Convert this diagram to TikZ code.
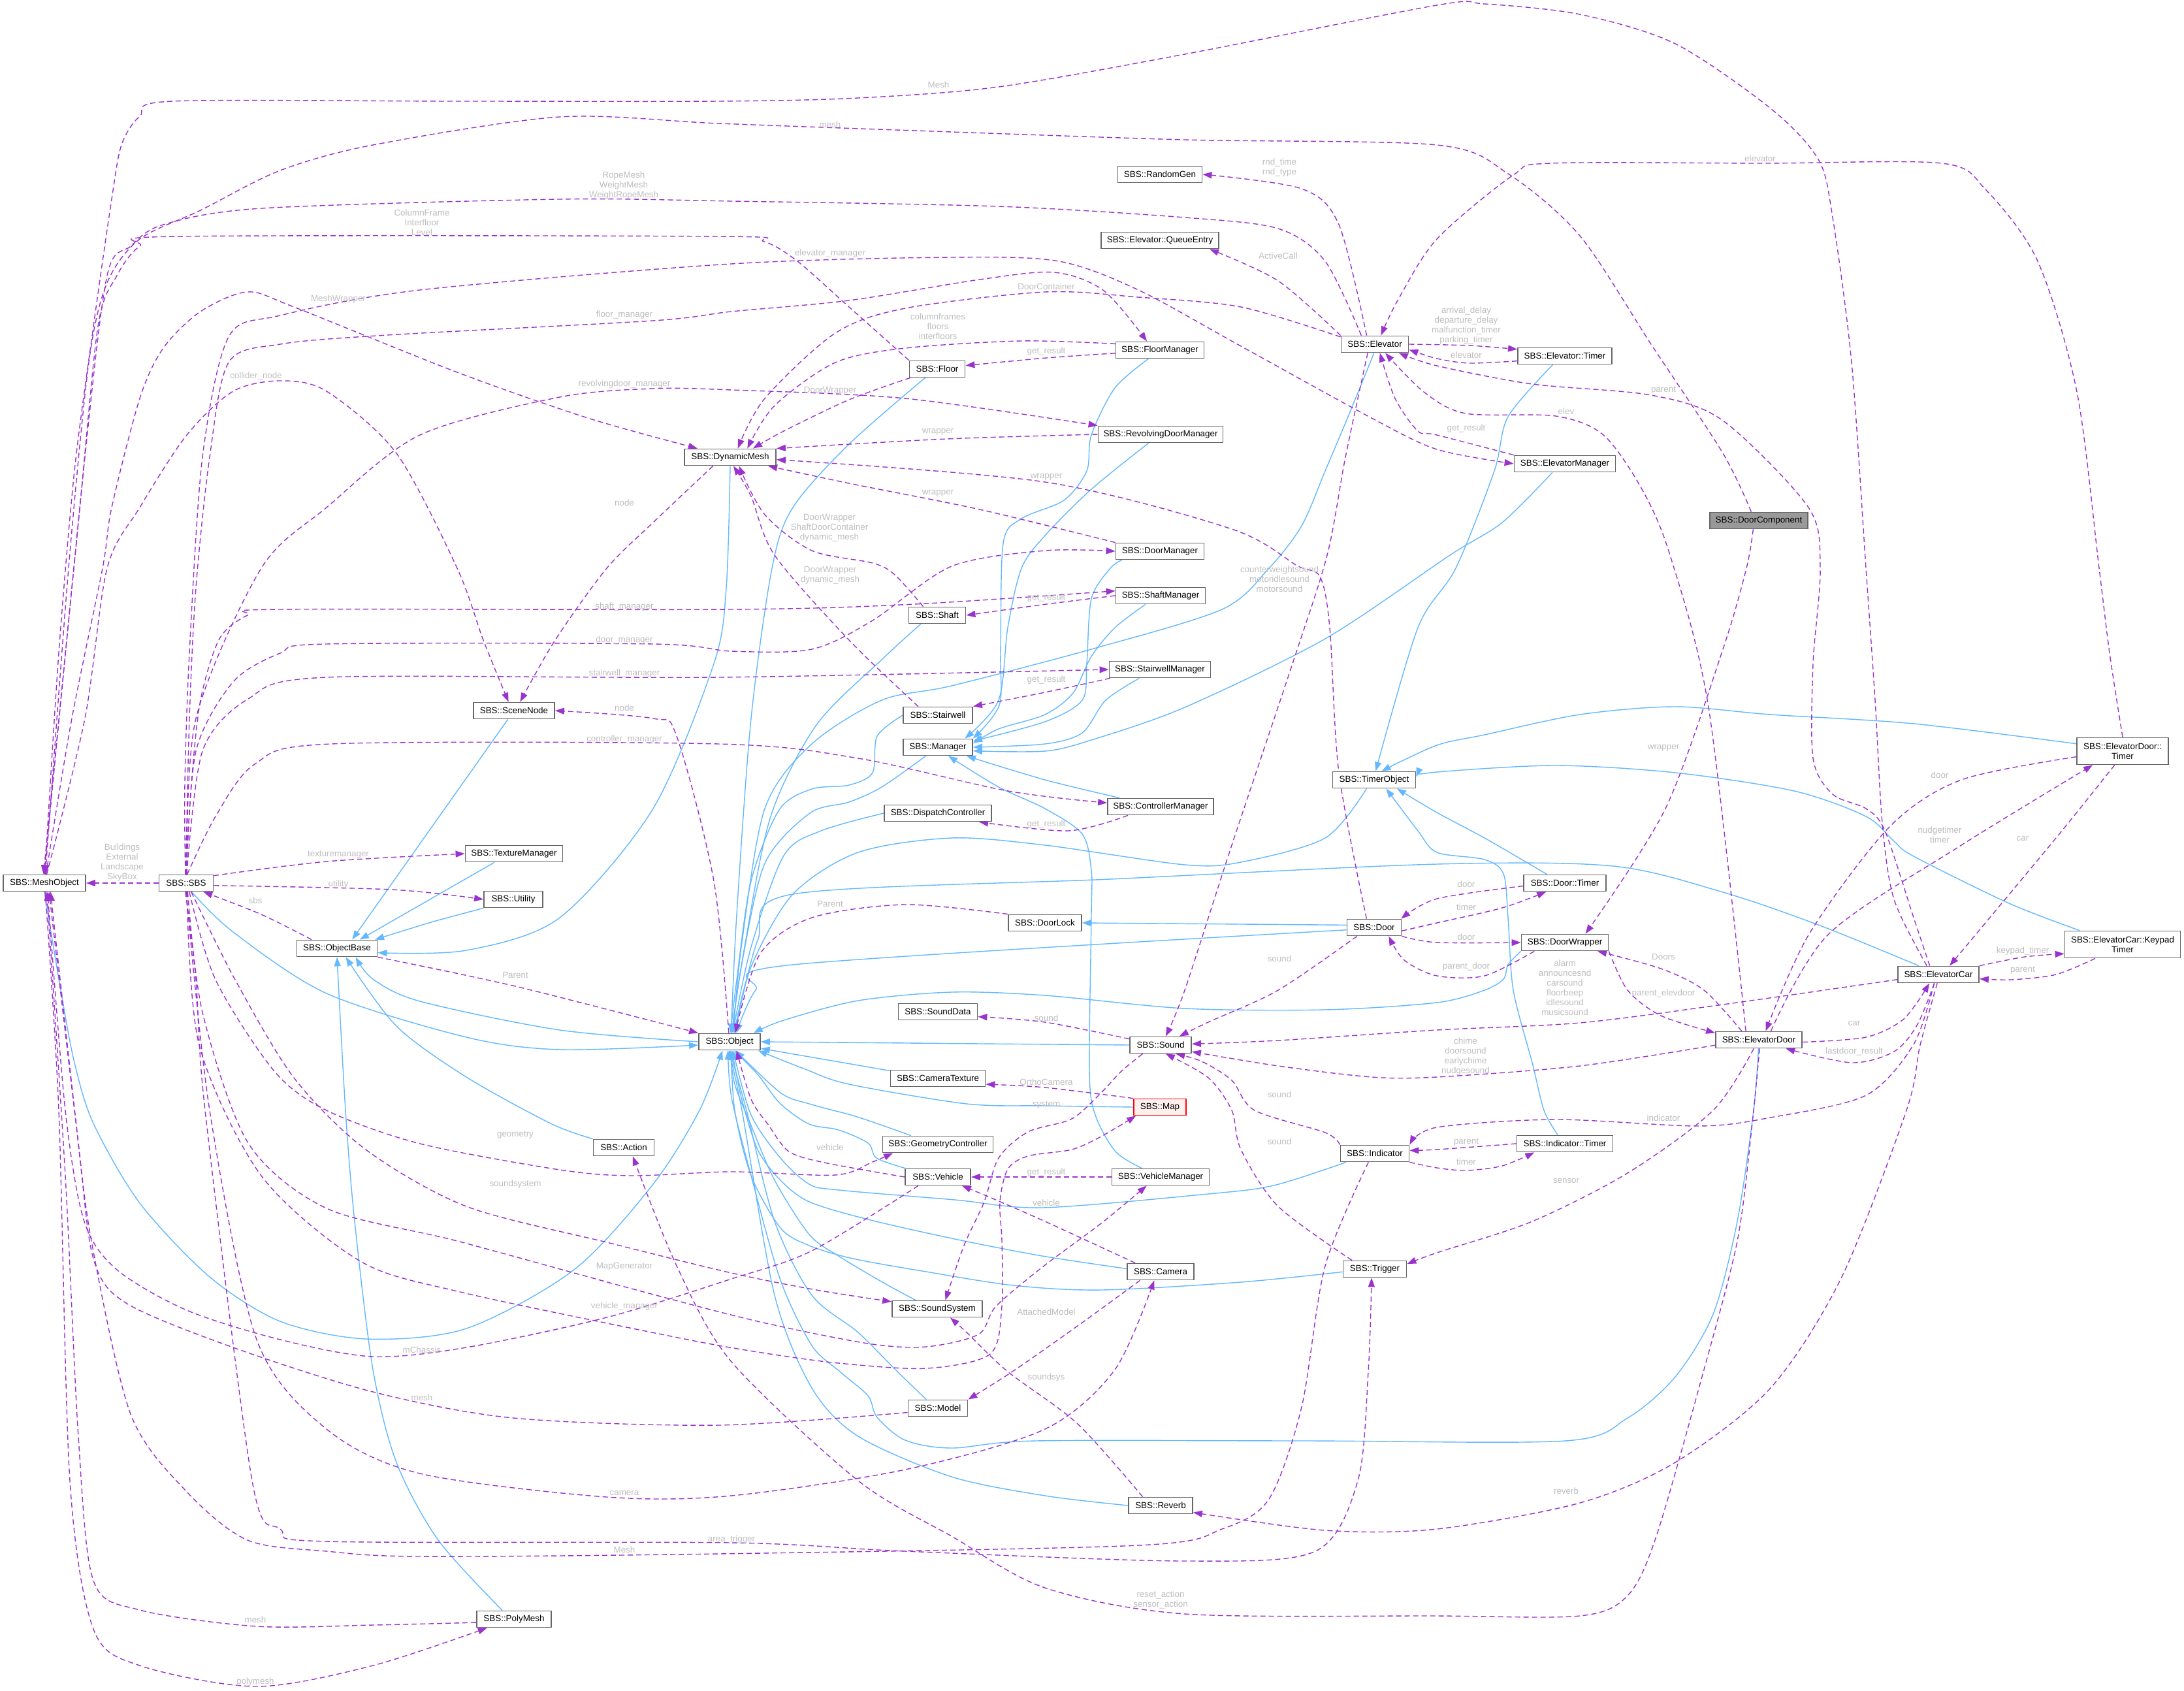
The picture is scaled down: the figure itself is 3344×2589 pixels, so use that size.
\documentclass[tikz,border=0pt]{standalone}
\usepackage{fontspec}
\setmainfont{Liberation Sans}
\usetikzlibrary{arrows.meta}
\definecolor{inhC}{HTML}{63B8FF}
\definecolor{depC}{HTML}{9A32CD}
\definecolor{lblC}{HTML}{BEBEBE}
\definecolor{bdrC}{HTML}{666666}
\pgfdeclarelayer{bg}
\pgfdeclarelayer{edges}
\pgfsetlayers{bg,edges,main}
\tikzset{
 cls/.style={draw=bdrC, fill=white, line width=0.9pt, font=\fontsize{6.7}{7.5}\selectfont, inner xsep=2pt, inner ysep=1pt, minimum height=12.5pt, text=black, align=center},
 mw/.style={minimum width=#1pt},
 inh/.style={draw=inhC, line width=0.7pt, -{Triangle[length=7pt,width=5pt]}},
 dep/.style={draw=depC, line width=0.7pt, dash pattern=on 4pt off 2.5pt, -{Triangle[length=7pt,width=5pt]}},
 lbl/.style={font=\fontsize{6.7}{7.5}\selectfont, text=lblC, align=center, inner sep=0pt},
}
\begin{document}
\begin{tikzpicture}[x=0.5pt,y=-0.5pt]
\begin{pgfonlayer}{bg}
\fill[white] (0,0) rectangle (3344,2589);
\end{pgfonlayer}
\useasboundingbox (0,0) rectangle (3344,2589);
% ---------- nodes ----------
\node[cls,mw=63] (MeshObject) at (68,1352) {SBS::MeshObject};
\node[cls,mw=41.5] (SBS) at (285,1352) {SBS::SBS};
\node[cls,mw=61.5] (ObjectBase) at (516,1452) {SBS::ObjectBase};
\node[cls,mw=62] (SceneNode) at (787,1088) {SBS::SceneNode};
\node[cls,mw=74.5] (TextureManager) at (787,1307) {SBS::TextureManager};
\node[cls,mw=45] (Utility) at (786,1377) {SBS::Utility};
\node[cls,mw=46.5] (Action) at (955,1757) {SBS::Action};
\node[cls,mw=57] (PolyMesh) at (787,2479) {SBS::PolyMesh};
\node[cls,mw=70] (DynamicMesh) at (1118,700) {SBS::DynamicMesh};
\node[cls,mw=47] (Object) at (1117,1595) {SBS::Object};
\node[cls,mw=42.5] (Floor) at (1435,565) {SBS::Floor};
\node[cls,mw=43.5] (Shaft) at (1435,942) {SBS::Shaft};
\node[cls,mw=53] (Stairwell) at (1436,1095) {SBS::Stairwell};
\node[cls,mw=53] (Manager) at (1436,1144) {SBS::Manager};
\node[cls,mw=82] (DispatchController) at (1436,1245) {SBS::DispatchController};
\node[cls,mw=60.5] (SoundData) at (1436,1549) {SBS::SoundData};
\node[cls,mw=72.5] (CameraTexture) at (1436,1651) {SBS::CameraTexture};
\node[cls,mw=84.5] (GeometryController) at (1436,1752) {SBS::GeometryController};
\node[cls,mw=50] (Vehicle) at (1436,1802) {SBS::Vehicle};
\node[cls,mw=69] (SoundSystem) at (1435,2004) {SBS::SoundSystem};
\node[cls,mw=45.5] (Model) at (1436,2156) {SBS::Model};
\node[cls,mw=56] (DoorLock) at (1600,1413) {SBS::DoorLock};
\node[cls,mw=64.5] (RandomGen) at (1776,267) {SBS::RandomGen};
\node[cls,mw=90] (QueueEntry) at (1776,368) {SBS::Elevator::QueueEntry};
\node[cls,mw=67.5] (FloorManager) at (1776,536) {SBS::FloorManager};
\node[cls,mw=95.5] (RevolvingDoorManager) at (1777,665) {SBS::RevolvingDoorManager};
\node[cls,mw=67.5] (DoorManager) at (1776,844) {SBS::DoorManager};
\node[cls,mw=68.5] (ShaftManager) at (1777,912) {SBS::ShaftManager};
\node[cls,mw=77.5] (StairwellManager) at (1776,1025) {SBS::StairwellManager};
\node[cls,mw=81] (ControllerManager) at (1777,1235) {SBS::ControllerManager};
\node[cls,mw=47] (Sound) at (1777,1600) {SBS::Sound};
\node[cls,mw=40,draw=red,fill={rgb,255:red,255;green,240;blue,240}] (Map) at (1776,1695) {SBS::Map};
\node[cls,mw=74.5] (VehicleManager) at (1777,1802) {SBS::VehicleManager};
\node[cls,mw=51] (Camera) at (1777,1947) {SBS::Camera};
\node[cls,mw=49] (Reverb) at (1777,2305) {SBS::Reverb};
\node[cls,mw=51.5] (Elevator) at (2105,527) {SBS::Elevator};
\node[cls,mw=63.5] (TimerObject) at (2104,1194) {SBS::TimerObject};
\node[cls,mw=41.5] (Door) at (2104,1420) {SBS::Door};
\node[cls,mw=52.5] (Indicator) at (2105,1766) {SBS::Indicator};
\node[cls,mw=48.5] (Trigger) at (2105,1943) {SBS::Trigger};
\node[cls,mw=72] (ElevatorTimer) at (2396,545) {SBS::Elevator::Timer};
\node[cls,mw=77.5] (ElevatorManager) at (2396,710) {SBS::ElevatorManager};
\node[cls,mw=63] (DoorTimer) at (2396,1352) {SBS::Door::Timer};
\node[cls,mw=66.5] (DoorWrapper) at (2396,1443) {SBS::DoorWrapper};
\node[cls,mw=73.5] (IndicatorTimer) at (2396,1751) {SBS::Indicator::Timer};
\node[cls,mw=75,fill={rgb,255:red,153;green,153;blue,153}] (DoorComponent) at (2693,797) {SBS::DoorComponent};
\node[cls,mw=66] (ElevatorDoor) at (2693,1592) {SBS::ElevatorDoor};
\node[cls,mw=62] (ElevatorCar) at (2968,1492) {SBS::ElevatorCar};
\node[cls,mw=70,minimum height=20.5pt] (EDTimer) at (3250,1150) {SBS::ElevatorDoor::\\Timer};
\node[cls,mw=88.5,minimum height=20.5pt] (KeypadTimer) at (3250,1446) {SBS::ElevatorCar::Keypad\\Timer};
% ---------- labels ----------
\node[lbl] (l1) at (1437,130) {Mesh};
\node[lbl] (l2) at (1271,191) {mesh};
\node[lbl] (l3) at (955,284) {RopeMesh\\WeightMesh\\WeightRopeMesh};
\node[lbl] (l4) at (646,341) {ColumnFrame\\Interfloor\\Level};
\node[lbl] (l5) at (1959,257) {rnd\_time\\rnd\_type};
\node[lbl] (l6) at (1957,392) {ActiveCall};
\node[lbl] (l7) at (1271,388) {elevator\_manager};
\node[lbl] (l8) at (1602,439) {DoorContainer};
\node[lbl] (l9) at (518,458) {MeshWrapper};
\node[lbl] (l10) at (956,482) {floor\_manager};
\node[lbl] (l11) at (1436,500) {columnframes\\floors\\interfloors};
\node[lbl] (l12) at (1602,538) {get\_result};
\node[lbl] (l13) at (392,576) {collider\_node};
\node[lbl] (l14) at (956,588) {revolvingdoor\_manager};
\node[lbl] (l15) at (1271,598) {DoorWrapper};
\node[lbl] (l16) at (1436,661) {wrapper};
\node[lbl] (l17) at (1602,730) {wrapper};
\node[lbl] (l18) at (1436,755) {wrapper};
\node[lbl] (l19) at (956,770) {node};
\node[lbl] (l20) at (1270,808) {DoorWrapper\\ShaftDoorContainer\\dynamic\_mesh};
\node[lbl] (l21) at (1271,881) {DoorWrapper\\dynamic\_mesh};
\node[lbl] (l22) at (1959,887) {counterweightsound\\motoridlesound\\motorsound};
\node[lbl] (l23) at (956,929) {shaft\_manager};
\node[lbl] (l24) at (1602,915) {get\_result};
\node[lbl] (l25) at (956,980) {door\_manager};
\node[lbl] (l26) at (956,1031) {stairwell\_manager};
\node[lbl] (l27) at (1602,1041) {get\_result};
\node[lbl] (l28) at (956,1084) {node};
\node[lbl] (l29) at (956,1132) {controller\_manager};
\node[lbl] (l30) at (1602,1262) {get\_result};
\node[lbl] (l31) at (187,1321) {Buildings\\External\\Landscape\\SkyBox};
\node[lbl] (l32) at (518,1309) {texturemanager};
\node[lbl] (l33) at (518,1354) {utility};
\node[lbl] (l34) at (391,1379) {sbs};
\node[lbl] (l35) at (789,1493) {Parent};
\node[lbl] (l36) at (1271,1384) {Parent};
\node[lbl] (l37) at (1959,1468) {sound};
\node[lbl] (l38) at (1602,1559) {sound};
\node[lbl] (l39) at (1602,1657) {OrthoCamera};
\node[lbl] (l40) at (1602,1692) {system};
\node[lbl] (l41) at (1959,1676) {sound};
\node[lbl] (l42) at (2695,243) {elevator};
\node[lbl] (l43) at (2245,499) {arrival\_delay\\departure\_delay\\malfunction\_timer\\parking\_timer};
\node[lbl] (l44) at (2245,544) {elevator};
\node[lbl] (l45) at (2547,598) {parent};
\node[lbl] (l46) at (2398,630) {elev};
\node[lbl] (l47) at (2245,656) {get\_result};
\node[lbl] (l48) at (2547,1145) {wrapper};
\node[lbl] (l49) at (2970,1187) {door};
\node[lbl] (l50) at (2970,1278) {nudgetimer\\timer};
\node[lbl] (l51) at (3097,1284) {car};
\node[lbl] (l52) at (2245,1354) {door};
\node[lbl] (l53) at (2245,1389) {timer};
\node[lbl] (l54) at (2245,1435) {door};
\node[lbl] (l55) at (2245,1480) {parent\_door};
\node[lbl] (l56) at (2547,1465) {Doors};
\node[lbl] (l57) at (2396,1512) {alarm\\announcesnd\\carsound\\floorbeep\\idlesound\\musicsound};
\node[lbl] (l58) at (3097,1456) {keypad\_timer};
\node[lbl] (l59) at (3097,1486) {parent};
\node[lbl] (l60) at (2547,1521) {parent\_elevdoor};
\node[lbl] (l61) at (2839,1567) {car};
\node[lbl] (l62) at (2244,1618) {chime\\doorsound\\earlychime\\nudgesound};
\node[lbl] (l63) at (2839,1610) {lastdoor\_result};
\node[lbl] (l64) at (2547,1712) {indicator};
\node[lbl] (l65) at (789,1738) {geometry};
\node[lbl] (l66) at (789,1813) {soundsystem};
\node[lbl] (l67) at (956,1939) {MapGenerator};
\node[lbl] (l68) at (956,2000) {vehicle\_manager};
\node[lbl] (l69) at (646,2067) {mChassis};
\node[lbl] (l70) at (646,2140) {mesh};
\node[lbl] (l71) at (956,2286) {camera};
\node[lbl] (l72) at (1120,2357) {area\_trigger};
\node[lbl] (l73) at (956,2373) {Mesh};
\node[lbl] (l74) at (391,2480) {mesh};
\node[lbl] (l75) at (391,2575) {polymesh};
\node[lbl] (l76) at (1271,1757) {vehicle};
\node[lbl] (l77) at (1602,1795) {get\_result};
\node[lbl] (l78) at (1602,1842) {vehicle};
\node[lbl] (l79) at (1602,2009) {AttachedModel};
\node[lbl] (l80) at (1602,2109) {soundsys};
\node[lbl] (l81) at (1777,2449) {reset\_action\\sensor\_action};
\node[lbl] (l82) at (1959,1748) {sound};
\node[lbl] (l83) at (2245,1749) {parent};
\node[lbl] (l84) at (2245,1779) {timer};
\node[lbl] (l85) at (2398,1808) {sensor};
\node[lbl] (l86) at (2398,2283) {reverb};
\begin{pgfonlayer}{edges}
% ---------- inheritance ----------
\draw[inh] (SceneNode.235) -- (ObjectBase.30);
\draw[inh] (TextureManager.204) -- (ObjectBase.21);
\draw[inh] plot[smooth] coordinates {(Utility.south west) (660,1412) (ObjectBase.13)};
\draw[inh] plot[smooth] coordinates {(DynamicMesh.south) (1112,900) (1093,1016) (1000,1238) (857,1405) (714,1455) (ObjectBase.354)};
\draw[inh] plot[smooth] coordinates {(Object.west) (857,1577) (643,1533) (571,1499) (ObjectBase.335)};
\draw[inh] plot[smooth] coordinates {(SBS.302) (357,1427) (500,1521) (714,1588) (857,1607) (Object.186)};
\draw[inh] plot[smooth] coordinates {(Action.north west) (843,1720) (714,1649) (607,1571) (ObjectBase.315)};
\draw[inh] plot[smooth] coordinates {(PolyMesh.143) (671,2358) (607,2239) (571,2097) (543,1870) (529,1700) (ObjectBase.270)};
\draw[inh] plot[smooth] coordinates {(MeshObject.south) (93,1516) (114,1627) (143,1720) (214,1842) (321,1955) (429,2023) (561,2050) (714,2034) (879,1944) (1000,1813) (1071,1700) (Object.231)};
\draw[inh] plot[smooth] coordinates {(Floor.216) (1300,680) (1214,777) (1182,870) (1150,1100) (1128,1400) (Object.80)};
\draw[inh] plot[smooth] coordinates {(Shaft.208) (1350,1010) (1250,1110) (1180,1250) (1140,1450) (Object.77)};
\draw[inh] plot[smooth] coordinates {(Stairwell.west) (1343,1127) (1336,1183) (1300,1202) (1243,1208) (1193,1240) (1150,1349) (1128,1500) (Object.83)};
\draw[inh] plot[smooth] coordinates {(Manager.216) (1350,1205) (1300,1228) (1240,1245) (1171,1322) (1135,1480) (Object.74)};
\draw[inh] plot[smooth] coordinates {(DispatchController.west) (1257,1272) (1200,1310) (1150,1450) (Object.70)};
\draw[inh] plot[smooth] coordinates {(Elevator.265) (2064,638) (2029,721) (1993,805) (1943,870) (1871,933) (1671,994) (1457,1050) (1350,1072) (1243,1139) (1171,1238) (1135,1450) (Object.66)};
\draw[inh] plot[smooth] coordinates {(TimerObject.229) (2029,1283) (1900,1320) (1814,1324) (1600,1294) (1457,1283) (1314,1305) (1214,1369) (1150,1480) (Object.62)};
\draw[inh] plot[smooth] coordinates {(ElevatorCar.156) (2784,1416) (2638,1366) (2470,1326) (2200,1323) (1700,1346) (1214,1369) (1160,1440) (Object.58)};
\draw[inh] plot[smooth] coordinates {(Door.185) (1214,1477) (1157,1516) (Object.52)};
\draw[inh] plot[smooth] coordinates {(DoorWrapper.south west) (2309,1477) (2302,1499) (2273,1516) (2200,1535) (2029,1546) (1814,1544) (1600,1524) (1457,1519) (1314,1532) (1200,1562) (Object.20)};
\draw[inh] (Sound.west) -- (Object.east);
\draw[inh] (CameraTexture.171) -- (Object.348);
\draw[inh] plot[smooth] coordinates {(Map.west) (1600,1693) (1480,1690) (1300,1660) (1233,1637) (Object.343)};
\draw[inh] plot[smooth] coordinates {(GeometryController.162) (1351,1723) (1306,1708) (1239,1690) (1195,1673) (Object.305)};
\draw[inh] plot[smooth] coordinates {(Vehicle.165) (1342,1773) (1329,1750) (1284,1730) (1239,1721) (1195,1690) (1160,1645) (Object.298)};
\draw[inh] plot[smooth] coordinates {(Indicator.197) (1950,1815) (1850,1828) (1596,1849) (1462,1837) (1284,1822) (1239,1813) (1195,1773) (1150,1707) (Object.292)};
\draw[inh] plot[smooth] coordinates {(Camera.175) (1596,1923) (1462,1897) (1329,1867) (1239,1840) (1195,1807) (1160,1760) (1135,1680) (Object.286)};
\draw[inh] plot[smooth] coordinates {(Trigger.185) (1900,1963) (1686,1975) (1552,1968) (1418,1947) (1306,1927) (1239,1907) (1195,1880) (1150,1800) (1125,1700) (Object.280)};
\draw[inh] plot[smooth] coordinates {(SoundSystem.158) (1351,1963) (1284,1923) (1239,1890) (1186,1807) (1150,1723) (1125,1660) (Object.275)};
\draw[inh] plot[smooth] coordinates {(Model.143) (1371,2097) (1314,2040) (1243,1983) (1186,1870) (1143,1700) (Object.270)};
\draw[inh] plot[smooth] coordinates {(Reverb.west) (1600,2290) (1457,2261) (1314,2199) (1243,2125) (1186,1983) (1136,1700) (Object.265)};
\draw[inh] plot[smooth] coordinates {(ElevatorDoor.268) (2685,1700) (2660,1870) (2623,2012) (2565,2108) (2492,2171) (2397,2206) (2000,2206) (1586,2206) (1457,2217) (1386,2205) (1343,2170) (1329,2137) (1286,2100) (1243,2060) (1195,1960) (1150,1800) (1120,1680) (Object.260)};
\draw[inh] plot[smooth] coordinates {(FloorManager.217) (1707,594) (1671,666) (1664,721) (1629,766) (1564,794) (1536,832) (1532,1000) (1530,1080) (Manager.north east)};
\draw[inh] plot[smooth] coordinates {(RevolvingDoorManager.216) (1671,749) (1600,820) (1564,870) (1543,961) (1529,1072) (Manager.18)};
\draw[inh] plot[smooth] coordinates {(DoorManager.193) (1700,870) (1671,917) (1664,1016) (1657,1072) (1600,1105) (Manager.10)};
\draw[inh] plot[smooth] coordinates {(ShaftManager.210) (1707,961) (1671,1005) (1643,1061) (1600,1094) (1529,1116) (Manager.6)};
\draw[inh] plot[smooth] coordinates {(StairwellManager.203) (1693,1072) (1657,1122) (1600,1139) (Manager.0)};
\draw[inh] plot[smooth] coordinates {(ElevatorManager.215) (2300,800) (2220,850) (2029,978) (1814,1083) (1671,1133) (1600,1150) (Manager.354)};
\draw[inh] plot[smooth] coordinates {(ControllerManager.168) (1600,1194) (Manager.343)};
\draw[inh] plot[smooth] coordinates {(VehicleManager.155) (1708,1763) (1677,1707) (1668,1640) (1671,1400) (1671,1333) (1657,1277) (1600,1238) (1529,1205) (Manager.320)};
\draw[inh] plot[smooth] coordinates {(ElevatorTimer.216) (2309,638) (2288,721) (2229,870) (2171,961) (TimerObject.80)};
\draw[inh] plot[smooth] coordinates {(EDTimer.171) (2930,1108) (2711,1094) (2565,1082) (2419,1094) (2273,1125) (2200,1141) (TimerObject.50)};
\draw[inh] plot[smooth] coordinates {(KeypadTimer.162) (3076,1383) (2930,1311) (2900,1288) (2857,1250) (2747,1211) (2565,1183) (2382,1172) (2200,1182) (TimerObject.4)};
\draw[inh] plot[smooth] coordinates {(DoorTimer.154) (2273,1283) (2200,1244) (TimerObject.339)};
\draw[inh] plot[smooth] coordinates {(IndicatorTimer.129) (2364,1700) (2346,1627) (2317,1516) (2309,1405) (2302,1338) (2273,1316) (2200,1305) (2171,1272) (TimerObject.324)};
\draw[inh] (Door.175) -- (DoorLock.east);
% ---------- usage ----------
\draw[dep] plot[smooth] coordinates {(ElevatorCar.143) (2900,1377) (2882,1260) (2871,1072) (2857,870) (2835,555) (2806,333) (2784,244) (2711,166) (2565,67) (2419,22) (2273,6) (2200,8) (1814,83) (1529,133) (1314,150) (1100,155) (700,155) (264,155) (214,178) (186,222) (171,305) (143,500) (114,721) (90,1000) (MeshObject.88)};
\draw[dep] plot[smooth] coordinates {(DoorComponent.131) (2638,694) (2528,527) (2419,361) (2309,266) (2200,222) (1814,214) (1400,200) (1100,189) (857,179) (571,222) (429,261) (307,322) (214,366) (164,433) (136,555) (105,870) (MeshObject.84)};
\draw[dep] plot[smooth] coordinates {(Elevator.147) (2029,400) (1957,350) (1814,333) (1529,316) (1120,308) (857,305) (400,319) (250,344) (200,377) (164,422) (130,700) (MeshObject.92)};
\draw[dep] plot[smooth] coordinates {(Floor.north west) (1300,470) (1221,400) (1170,370) (1100,362) (271,362) (214,377) (179,422) (150,500) (120,800) (MeshObject.96)};
\draw[dep] plot[smooth] coordinates {(SBS.95) (283,1200) (290,1000) (310,700) (350,516) (429,483) (643,444) (1120,404) (1457,394) (1621,400) (1743,444) (1900,530) (2100,640) (2200,688) (ElevatorManager.west)};
\draw[dep] plot[smooth] coordinates {(MeshObject.80) (110,1100) (157,870) (171,777) (214,610) (250,533) (307,477) (379,447) (450,470) (700,570) (900,640) (DynamicMesh.165)};
\draw[dep] plot[smooth] coordinates {(SBS.93) (290,1100) (300,900) (321,700) (350,555) (429,527) (593,513) (1000,491) (1120,477) (1300,460) (1500,428) (1614,417) (1690,445) (FloorManager.146)};
\draw[dep] plot[smooth] coordinates {(Elevator.168) (1900,470) (1743,455) (1600,447) (1386,472) (1279,510) (1171,610) (DynamicMesh.49)};
\draw[dep] plot[smooth] coordinates {(FloorManager.172) (1564,522) (1386,533) (1279,555) (1186,621) (DynamicMesh.27)};
\draw[dep] plot[smooth] coordinates {(FloorManager.184) (1602,548) (Floor.7)};
\draw[dep] plot[smooth] coordinates {(Floor.198) (1300,612) (1200,660) (DynamicMesh.21)};
\draw[dep] plot[smooth] coordinates {(MeshObject.75) (130,1100) (164,870) (214,777) (286,666) (357,599) (429,583) (500,599) (607,694) (700,870) (740,980) (SceneNode.122)};
\draw[dep] plot[smooth] coordinates {(SBS.85) (300,1100) (400,870) (500,777) (643,666) (857,608) (1000,595) (1120,597) (1386,610) (RevolvingDoorManager.north west)};
\draw[dep] plot[smooth] coordinates {(RevolvingDoorManager.west) (1450,672) (DynamicMesh.north east)};
\draw[dep] plot[smooth] coordinates {(DoorManager.north west) (1500,780) (1300,740) (DynamicMesh.347)};
\draw[dep] plot[smooth] coordinates {(Door.131) (2050,1183) (2036,961) (2021,883) (1986,866) (1886,810) (1600,738) (DynamicMesh.357)};
\draw[dep] plot[smooth] coordinates {(Shaft.148) (1370,880) (1336,862) (1243,843) (1171,788) (DynamicMesh.315)};
\draw[dep] plot[smooth] coordinates {(Stairwell.156) (1300,980) (1186,850) (1150,760) (DynamicMesh.290)};
\draw[dep] plot[smooth] coordinates {(DynamicMesh.207) (1000,800) (929,870) (850,980) (SceneNode.55)};
\draw[dep] plot[smooth] coordinates {(SBS.90) (293,1200) (307,1072) (336,978) (379,942) (429,933) (1120,933) (1400,925) (ShaftManager.174)};
\draw[dep] plot[smooth] coordinates {(SBS.88) (300,1150) (357,1044) (429,1000) (500,986) (1000,986) (1120,997) (1243,994) (1336,950) (1457,867) (1600,843) (DoorManager.west)};
\draw[dep] plot[smooth] coordinates {(SBS.86) (310,1150) (380,1070) (500,1037) (1100,1037) (StairwellManager.west)};
\draw[dep] plot[smooth] coordinates {(SBS.83) (330,1250) (390,1170) (507,1139) (1100,1139) (1314,1161) (1543,1211) (ControllerManager.176)};
\draw[dep] plot[smooth] coordinates {(Object.95) (1093,1349) (1036,1127) (1000,1100) (SceneNode.east)};
\draw[dep] (SBS.west) -- (MeshObject.east);
\draw[dep] plot[smooth] coordinates {(SBS.15) (500,1319) (TextureManager.west)};
\draw[dep] plot[smooth] coordinates {(SBS.355) (600,1362) (Utility.west)};
\draw[dep] plot[smooth] coordinates {(ObjectBase.161) (400,1400) (SBS.333)};
\draw[dep] plot[smooth] coordinates {(ObjectBase.south east) (789,1510) (Object.north west)};
\draw[dep] plot[smooth] coordinates {(DoorLock.north west) (1386,1385) (1243,1405) (1164,1460) (Object.57)};
\draw[dep] plot[smooth] coordinates {(ShaftManager.west) (1602,925) (Shaft.east)};
\draw[dep] plot[smooth] coordinates {(StairwellManager.190) (1600,1060) (Stairwell.north east)};
\draw[dep] plot[smooth] coordinates {(ControllerManager.195) (1636,1272) (DispatchController.348)};
\draw[dep] plot[smooth] coordinates {(Elevator.133) (2050,344) (1993,289) (RandomGen.east)};
\draw[dep] plot[smooth] coordinates {(Elevator.north west) (1957,430) (QueueEntry.350)};
\draw[dep] plot[smooth] coordinates {(Elevator.east) (2250,529) (ElevatorTimer.172)};
\draw[dep] plot[smooth] coordinates {(ElevatorTimer.186) (2250,556) (2200,549) (Elevator.351)};
\draw[dep] plot[smooth] coordinates {(EDTimer.north) (3230,1000) (3214,870) (3180,600) (3120,400) (3040,290) (2973,250) (2700,250) (2375,250) (2317,268) (2200,366) (2140,460) (Elevator.55)};
\draw[dep] plot[smooth] coordinates {(ElevatorCar.135) (2930,1405) (2886,1272) (2857,1238) (2806,1216) (2776,1161) (2776,1016) (2787,870) (2769,777) (2638,644) (2528,605) (2346,588) (2200,560) (Elevator.340)};
\draw[dep] plot[smooth] coordinates {(ElevatorDoor.146) (2616,1083) (2557,850) (2514,749) (2455,666) (2382,637) (2244,633) (2180,600) (Elevator.320)};
\draw[dep] plot[smooth] coordinates {(ElevatorManager.north west) (2200,666) (2171,660) (2136,610) (Elevator.300)};
\draw[dep] plot[smooth] coordinates {(Elevator.231) (2060,700) (2032,850) (1979,1016) (1886,1294) (1814,1516) (Sound.60)};
\draw[dep] plot[smooth] coordinates {(Door.207) (1957,1516) (1850,1565) (Sound.25)};
\draw[dep] plot[smooth] coordinates {(Sound.169) (1600,1565) (SoundData.353)};
\draw[dep] plot[smooth] coordinates {(ElevatorCar.187) (2638,1538) (2419,1566) (2200,1577) (1957,1593) (Sound.2)};
\draw[dep] plot[smooth] coordinates {(ElevatorDoor.187) (2419,1632) (2200,1649) (2100,1649) (1957,1632) (Sound.348)};
\draw[dep] plot[smooth] coordinates {(Map.north west) (1600,1665) (CameraTexture.353)};
\draw[dep] plot[smooth] coordinates {(Sound.206) (1717,1640) (1686,1673) (1641,1713) (1574,1733) (1529,1773) (1507,1840) (1476,1907) (SoundSystem.47)};
\draw[dep] plot[smooth] coordinates {(Indicator.north west) (2029,1734) (1921,1700) (1886,1654) (1840,1625) (Sound.330)};
\draw[dep] plot[smooth] coordinates {(Trigger.159) (1957,1847) (1900,1760) (1886,1700) (1850,1650) (Sound.300)};
\draw[dep] plot[smooth] coordinates {(ElevatorCar.244) (2930,1599) (2857,1677) (2711,1711) (2601,1724) (2382,1714) (2200,1726) (Indicator.north east)};
\draw[dep] plot[smooth] coordinates {(IndicatorTimer.west) (2200,1760) (Indicator.5)};
\draw[dep] plot[smooth] coordinates {(Indicator.south east) (2200,1788) (2245,1792) (2300,1785) (IndicatorTimer.196)};
\draw[dep] plot[smooth] coordinates {(ElevatorDoor.240) (2623,1700) (2492,1796) (2346,1870) (2200,1918) (Trigger.9)};
\draw[dep] plot[smooth] coordinates {(ElevatorCar.262) (2940,1600) (2919,1700) (2820,1955) (2711,2125) (2565,2239) (2419,2301) (2200,2341) (2029,2343) (Reverb.348)};
\draw[dep] plot[smooth] coordinates {(ElevatorDoor.275) (2682,1728) (2660,1900) (2609,2097) (2536,2352) (2492,2443) (2419,2474) (2200,2474) (1814,2471) (1600,2431) (1457,2352) (1314,2267) (1120,2085) (1036,1938) (Action.316)};
\draw[dep] plot[smooth] coordinates {(Indicator.234) (2029,1938) (1993,2154) (1943,2295) (1871,2341) (1743,2366) (1100,2379) (643,2383) (500,2375) (379,2358) (286,2284) (200,2165) (140,1900) (114,1700) (MeshObject.298)};
\draw[dep] plot[smooth] coordinates {(SBS.265) (300,1500) (314,1700) (386,2267) (429,2341) (500,2360) (1120,2362) (1386,2375) (1814,2390) (2014,2375) (2079,2267) (2095,2100) (Trigger.250)};
\draw[dep] plot[smooth] coordinates {(SBS.270) (321,1700) (393,2051) (500,2188) (643,2256) (929,2292) (1120,2290) (1386,2250) (1600,2188) (1707,2097) (Camera.234)};
\draw[dep] plot[smooth] coordinates {(Model.188) (1100,2182) (786,2171) (571,2131) (357,2063) (193,1995) (143,1927) (120,1750) (MeshObject.305)};
\draw[dep] plot[smooth] coordinates {(Vehicle.204) (1243,1915) (1120,1958) (929,2017) (714,2063) (571,2077) (429,2051) (286,2006) (179,1944) (129,1870) (100,1700) (MeshObject.290)};
\draw[dep] plot[smooth] coordinates {(SBS.280) (310,1550) (380,1750) (500,1850) (700,1900) (967,1973) (1160,2023) (1329,2057) (1418,2062) (1498,2043) (1525,2000) (1596,1940) (1686,1873) (VehicleManager.212)};
\draw[dep] plot[smooth] coordinates {(SBS.275) (305,1600) (400,1800) (550,1930) (700,1977) (1033,2047) (1160,2070) (1284,2087) (1418,2095) (1516,2073) (1534,2000) (1534,1900) (1531,1840) (1543,1790) (1574,1770) (1641,1760) (1686,1740) (Map.200)};
\draw[dep] plot[smooth] coordinates {(SBS.290) (330,1500) (420,1640) (500,1700) (643,1751) (857,1791) (967,1800) (1120,1794) (1279,1799) (1336,1779) (GeometryController.191)};
\draw[dep] plot[smooth] coordinates {(SBS.300) (360,1500) (450,1650) (560,1760) (714,1847) (933,1903) (1120,1949) (1250,1975) (SoundSystem.171)};
\draw[dep] plot[smooth] coordinates {(Vehicle.west) (1262,1780) (1208,1763) (1177,1723) (1150,1683) (Object.309)};
\draw[dep] (VehicleManager.west) -- (Vehicle.east);
\draw[dep] plot[smooth] coordinates {(Camera.161) (1600,1870) (1520,1835) (Vehicle.340)};
\draw[dep] plot[smooth] coordinates {(Camera.203) (1650,2030) (1550,2100) (Model.north east)};
\draw[dep] plot[smooth] coordinates {(Reverb.154) (1650,2180) (1543,2100) (1480,2040) (SoundSystem.326)};
\draw[dep] plot[smooth] coordinates {(MeshObject.275) (90,1700) (107,2267) (143,2494) (214,2550) (393,2582) (571,2550) (PolyMesh.198)};
\draw[dep] plot[smooth] coordinates {(PolyMesh.185) (571,2488) (393,2490) (214,2465) (143,2420) (120,2200) (100,1800) (MeshObject.285)};
\draw[dep] plot[smooth] coordinates {(DoorTimer.184) (2200,1376) (Door.18)};
\draw[dep] plot[smooth] coordinates {(Door.353) (2200,1413) (2300,1390) (DoorTimer.205)};
\draw[dep] plot[smooth] coordinates {(Door.south east) (2200,1443) (DoorWrapper.west)};
\draw[dep] plot[smooth] coordinates {(DoorWrapper.196) (2273,1494) (2200,1494) (2150,1470) (Door.329)};
\draw[dep] plot[smooth] coordinates {(ElevatorDoor.153) (2609,1516) (2543,1483) (DoorWrapper.345)};
\draw[dep] plot[smooth] coordinates {(DoorWrapper.south east) (2492,1516) (2543,1555) (ElevatorDoor.171)};
\draw[dep] plot[smooth] coordinates {(DoorComponent.237) (2674,870) (2638,994) (2550,1238) (DoorWrapper.23)};
\draw[dep] plot[smooth] coordinates {(EDTimer.187) (3003,1194) (2893,1266) (2770,1430) (ElevatorDoor.52)};
\draw[dep] plot[smooth] coordinates {(ElevatorDoor.36) (2800,1430) (3003,1294) (EDTimer.205)};
\draw[dep] plot[smooth] coordinates {(EDTimer.240) (3148,1283) (ElevatorCar.38)};
\draw[dep] plot[smooth] coordinates {(ElevatorCar.north east) (3100,1465) (KeypadTimer.189)};
\draw[dep] plot[smooth] coordinates {(KeypadTimer.207) (3148,1492) (3080,1500) (ElevatorCar.354)};
\draw[dep] plot[smooth] coordinates {(ElevatorDoor.357) (2857,1588) (2915,1560) (ElevatorCar.224)};
\draw[dep] plot[smooth] coordinates {(ElevatorCar.245) (2935,1570) (2900,1610) (2835,1627) (ElevatorDoor.342)};
\end{pgfonlayer}
\end{tikzpicture}
\end{document}
